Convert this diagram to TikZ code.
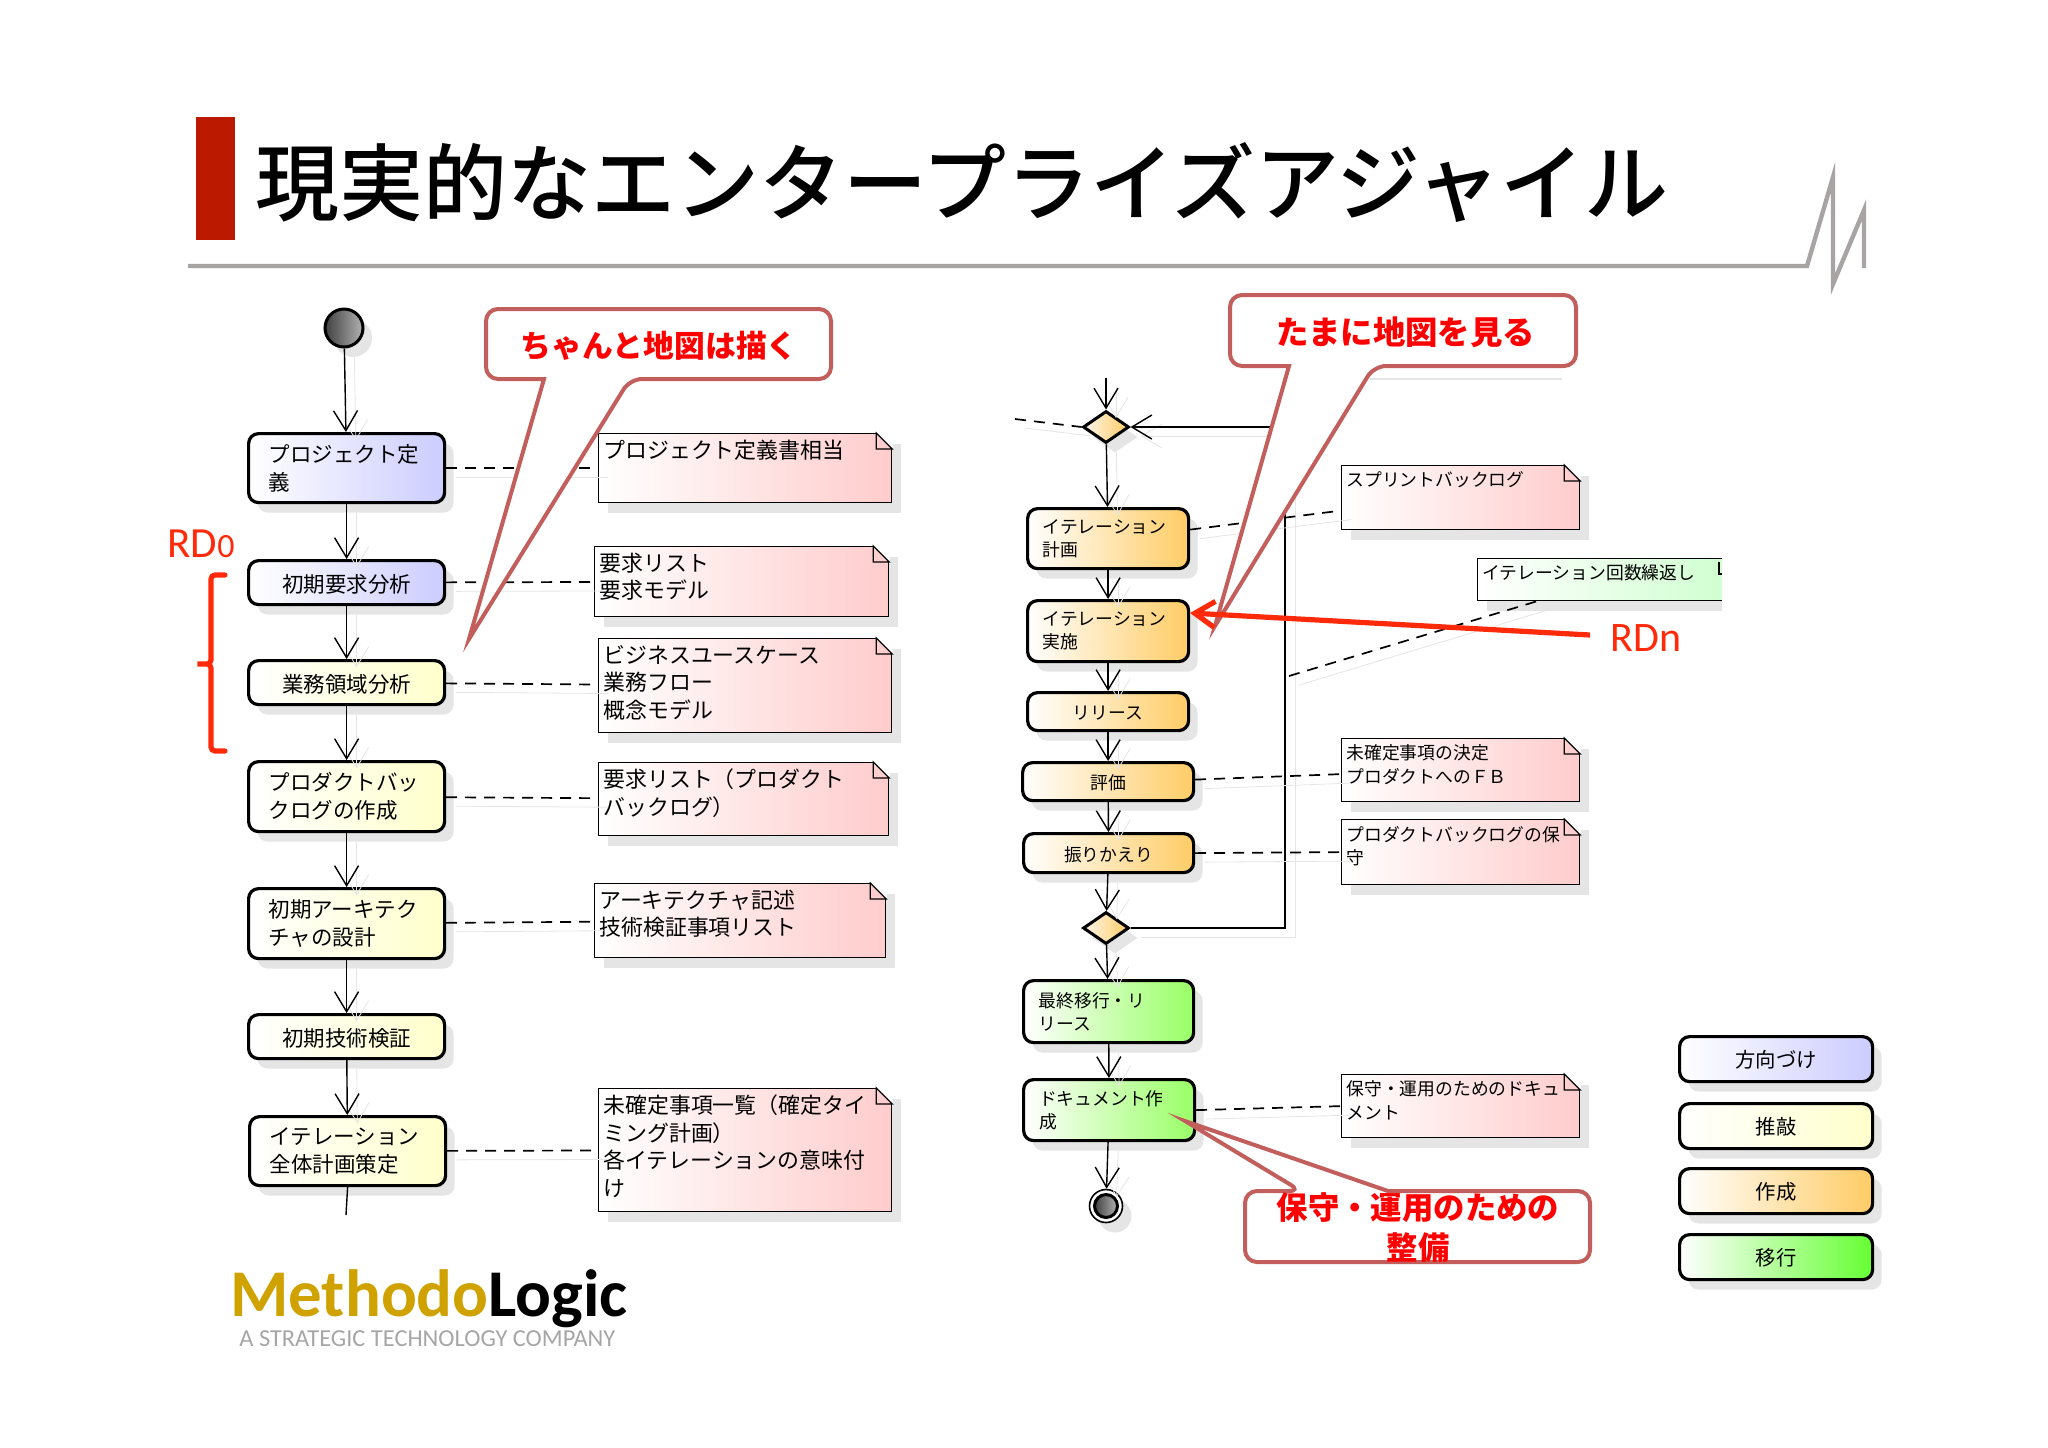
\documentclass[tikz,border=0pt]{standalone}
\usepackage{fontspec}
\setmainfont{Noto Sans CJK JP}
\newfontfamily\latinfont{Carlito}
\newfontfamily\titlefont{Noto Sans CJK JP Medium}
\usetikzlibrary{arrows.meta,shapes.geometric,shadows}
\definecolor{barred}{HTML}{BC1A00}
\definecolor{rulegrey}{HTML}{A8A4A4}
\definecolor{actblue}{HTML}{CCCCFF}
\definecolor{actyellow}{HTML}{FFFFCC}
\definecolor{actorange}{HTML}{FFCC66}
\definecolor{actgreen}{HTML}{99FF66}
\definecolor{keygreen}{HTML}{66FF33}
\definecolor{notepink}{HTML}{FFCCCC}
\definecolor{notegreen}{HTML}{CCFFCC}
\definecolor{bubbleline}{HTML}{C25F5C}
\definecolor{markred}{HTML}{FF2A0A}
\definecolor{logogold}{HTML}{CFA200}
\definecolor{logogrey}{HTML}{A6A6A6}
\newcommand{\notebox}[7]{%
  \node[notebg,right color=notepink,wh={#4}{#5},anchor=north west] (#1) at (#2,#3) {};
  \fill[white,draw=white] ([shift={(-16,0)}]#1.north east) -- (#1.north east) -- ([shift={(0,16)}]#1.north east) -- cycle;
  \draw[line width=0.6pt] ([shift={(-16,0)}]#1.north east) -- ([shift={(-16,16)}]#1.north east) -- ([shift={(0,16)}]#1.north east) -- cycle;
  \node[notetxt,#6,anchor=north west] (#1txt) at (#1.north west) {#7};}
\begin{document}
\begin{tikzpicture}[x=0.5pt,y=-0.5pt,
    >={Straight Barb[length=10pt,width=12pt]},
    wh/.style 2 args={minimum width=#1*0.5pt,minimum height=#2*0.5pt},
    fontbig/.style={font=\fontsize{10.75}{14.2}\selectfont},
    fontnote/.style={font=\fontsize{10.95}{13.8}\selectfont},
    fontsmall/.style={font=\fontsize{8.9}{11.6}\selectfont},
    fontkey/.style={font=\fontsize{10.2}{12}\selectfont},
    oneline/.style={text height=10.5pt,text depth=0.5pt},
    onesmall/.style={text height=8.5pt,text depth=0.5pt},
    onekey/.style={text height=9.3pt,text depth=0.5pt},
    softshadow/.style={drop shadow={shadow xshift=4.5pt,shadow yshift=-5pt,fill=black!20}},
    act/.style={draw=black,line width=1.6pt,rounded corners=5pt,inner sep=0pt,softshadow,left color=white},
    leftal/.style={text width=#1,align=left},
    notebg/.style={draw=black,line width=0.6pt,inner sep=0pt,softshadow,left color=white},
    notetxt/.style={inner xsep=2.5pt,inner ysep=3.3pt,align=left},
    flow/.style={->,line width=0.7pt,preaction={draw=black!10,transform canvas={xshift=5pt,yshift=-4.5pt}}},
    link/.style={line width=0.85pt,dash pattern=on 5.5pt off 4pt,preaction={draw=black!10,solid,transform canvas={xshift=5pt,yshift=-4.5pt}}},
    bubble/.style={draw=bubbleline,fill=white,line width=2pt},
    bubbletxt/.style={text=red,font=\fontsize{15.4}{20}\selectfont\bfseries,align=center},
    gate/.style={diamond,draw=black,line width=1.5pt,minimum width=23pt,minimum height=16pt,inner sep=0pt,softshadow,left color=orange!8,right color=actorange},
    ball/.style={circle,draw=black,line width=1.5pt,inner sep=0pt,left color=black!75,right color=black!30}]
\useasboundingbox (0,0) rectangle (2048,1447);

% header
\fill[barred] (196,117) rectangle (235,240);
\node[font=\titlefont\fontsize{42}{44}\selectfont,anchor=west,inner sep=0pt] (title) at (255,183) {現実的なエンタープライズアジャイル};
\draw[rulegrey,line width=2.2pt] (188,266) -- (1807,266) -- (1833,177) -- (1833,284) -- (1864,210) -- (1864,268);

% left column
\node[ball,softshadow,minimum size=19pt] (start) at (344,328) {};
\node[act,right color=actblue,wh={196}{69},leftal=78pt,fontbig,anchor=north west] (aDef) at (247,432) {プロジェクト定\\義};
\node[act,right color=actblue,wh={196}{44},oneline,fontbig,anchor=north west] (aReq) at (247,559) {初期要求分析};
\node[act,right color=actyellow,wh={196}{44},oneline,fontbig,anchor=north west] (aBiz) at (247,659) {業務領域分析};
\node[act,right color=actyellow,wh={196}{70},leftal=78pt,fontbig,anchor=north west] (aLog) at (247,760) {プロダクトバッ\\クログの作成};
\node[act,right color=actyellow,wh={196}{70},leftal=78pt,fontbig,anchor=north west] (aArch) at (247,887) {初期アーキテク\\チャの設計};
\node[act,right color=actyellow,wh={196}{44},oneline,fontbig,anchor=north west] (aTech) at (247,1013) {初期技術検証};
\node[act,right color=actyellow,wh={196}{69},leftal=78pt,fontbig,anchor=north west] (aPlan) at (248,1115) {イテレーション\\全体計画策定};
\coordinate (planEnd) at (346,1215);

\notebox{nDef}{598}{433}{293}{69}{fontnote}{プロジェクト定義書相当}
\notebox{nReq}{594}{546}{294}{70}{fontnote}{要求リスト\\要求モデル}
\notebox{nBiz}{598}{638}{293}{94}{fontnote}{ビジネスユースケース\\業務フロー\\概念モデル}
\notebox{nLog}{598}{762}{290}{73}{fontnote}{要求リスト（プロダクト\\バックログ）}
\notebox{nArch}{594}{883}{291}{74}{fontnote}{アーキテクチャ記述\\技術検証事項リスト}
\notebox{nPlan}{598}{1088}{293}{123}{fontnote}{未確定事項一覧（確定タイ\\ミング計画）\\各イテレーションの意味付\\け}

\path (start) edge[flow] (aDef)
      (aDef) edge[flow] (aReq)
      (aReq) edge[flow] (aBiz)
      (aBiz) edge[flow] (aLog)
      (aLog) edge[flow] (aArch)
      (aArch) edge[flow] (aTech)
      (aTech) edge[flow] (aPlan);
\draw[line width=0.7pt] (aPlan.south) -- (planEnd);
\path (aDef) edge[link] (nDef)
      (aReq) edge[link] (nReq)
      (aBiz) edge[link] (nBiz)
      (aLog) edge[link] (nLog)
      (aArch) edge[link] (nArch)
      (aPlan) edge[link] (nPlan);

% right column
\coordinate (loopIn) at (1106,378);
\coordinate (loopDash) at (1015,419);
\coordinate (loopSide) at (1285,700);
\node[gate] (dTop) at (1106,427) {};
\node[act,right color=actorange,wh={161}{60},leftal=65.5pt,fontsmall,anchor=north west] (aSprint) at (1026,507) {イテレーション\\計画};
\node[act,right color=actorange,wh={161}{61},leftal=65.5pt,fontsmall,anchor=north west] (aImpl) at (1026,599) {イテレーション\\実施};
\node[act,right color=actorange,wh={161}{38},onesmall,fontsmall,anchor=north west] (aRel) at (1026,691) {リリース};
\node[act,right color=actorange,wh={171}{38},onesmall,fontsmall,anchor=north west] (aEval) at (1021,761) {評価};
\node[act,right color=actorange,wh={170}{39},onesmall,fontsmall,anchor=north west] (aRetro) at (1022,832) {振りかえり};
\node[gate] (dBot) at (1106,928) {};
\node[act,right color=actgreen,wh={170}{62},leftal=70pt,fontsmall,anchor=north west] (aMove) at (1022,979) {最終移行・リ\\リース};
\node[act,right color=actgreen,wh={171}{61},leftal=70pt,fontsmall,anchor=north west] (aDoc) at (1022,1078) {ドキュメント作\\成};
\node[circle,draw=black,line width=0.8pt,fill=white,softshadow,minimum size=16.5pt,inner sep=0pt] (stop) at (1106,1206) {};
\node[ball,minimum size=11.5pt] (stopcore) at (stop) {};

\notebox{nSprint}{1341}{465}{238}{64}{fontsmall}{スプリントバックログ}
\notebox{nEval}{1341}{738}{238}{63}{fontsmall}{未確定事項の決定\\プロダクトへのＦＢ}
\notebox{nRetro}{1341}{819}{238}{65}{fontsmall}{プロダクトバックログの保\\守}
\notebox{nDoc}{1341}{1074}{238}{63}{fontsmall}{保守・運用のためのドキュ\\メント}

% cut off at the right
\node[notebg,right color=notegreen,wh={270}{42},anchor=north west] (nLoop) at (1477,558) {};
\fill[white] (1722,540) rectangle (1770,620);
\draw[line width=0.6pt] (1719,562) -- (1719,574) -- (1722,574);
\node[notetxt,fontsmall,anchor=north west] (nLooptxt) at (nLoop.north west) {イテレーション回数繰返し};
\coordinate (loopNoteEnd) at (1541,600);
\coordinate (loopNoteStart) at (1289,676);

\draw[flow] (dBot.east) -| (loopSide) |- (dTop.east);
\path (loopIn) edge[flow] (dTop)
      (dTop) edge[flow] (aSprint)
      (aSprint) edge[flow] (aImpl)
      (aImpl) edge[flow] (aRel)
      (aRel) edge[flow] (aEval)
      (aEval) edge[flow] (aRetro)
      (aRetro) edge[flow] (dBot)
      (dBot) edge[flow] (aMove)
      (aMove) edge[flow] (aDoc)
      (aDoc) edge[flow] (stop);
\path (loopDash) edge[link] (dTop.west)
      ([yshift=4.5pt]aSprint.east) edge[link] ([yshift=-6.5pt]nSprint.west)
      ([yshift=1pt]aEval.east) edge[link] ([yshift=-2pt]nEval.west)
      (aRetro.east) edge[link] (nRetro.west)
      (aDoc.east) edge[link] (nDoc.west)
      (loopNoteStart) edge[link] (loopNoteEnd);

% legend
\node[act,right color=actblue,wh={193}{45},onekey,fontkey,anchor=north west] (keyDir) at (1678,1035) {方向づけ};
\node[act,right color=actyellow,wh={193}{45},onekey,fontkey,anchor=north west] (keyEdit) at (1678,1102) {推敲};
\node[act,right color=actorange,wh={193}{45},onekey,fontkey,anchor=north west] (keyMake) at (1678,1167) {作成};
\node[act,right color=keygreen,wh={193}{45},onekey,fontkey,anchor=north west] (keyMove) at (1678,1233) {移行};

% bracket and RD marks
\draw[markred,line width=2.6pt,rounded corners=2pt,line cap=round] (225,575) -- (211,575) -- (211,664) -- (195,664) -- (211,664) -- (211,751) -- (225,751);
\node[text=markred,font=\latinfont\fontsize{21.5}{22}\selectfont,inner sep=0pt] (rdzero) at (201,544) {RD{\fontsize{17}{18}\selectfont 0}};
\node[text=markred,font=\latinfont\fontsize{21}{22}\selectfont,inner sep=0pt,anchor=west] (rdn) at (1610,638) {RDn};

% speech bubbles
\draw[black!10,line width=0.8pt] (1370,379) -- (1562,379);
\draw[bubble] (486,344) [rounded corners=6pt] -- (486,309) -- (831,309) -- (831,379) -- (630,379) [sharp corners] -- (469,639) -- (544,379) [rounded corners=6pt] -- (486,379) -- cycle;
\node[bubbletxt] (bubbleMap) at (659,346) {ちゃんと地図は描く};
\draw[bubble] (1230,330) [rounded corners=6pt] -- (1230,295) -- (1576,295) -- (1576,366) -- (1374,366) [sharp corners] -- (1215,626) -- (1289,366) [rounded corners=6pt] -- (1230,366) -- cycle;
\node[bubbletxt,font=\fontsize{16.2}{20}\selectfont\bfseries] (bubbleLook) at (1406,332) {たまに地図を見る};
\draw[bubble] (1245,1226) [rounded corners=6pt] -- (1245,1191) -- (1301,1191) [sharp corners] -- (1185,1121) -- (1388,1191) [rounded corners=6pt] -- (1590,1191) -- (1590,1262) -- (1245,1262) -- cycle;
\node[bubbletxt,font=\fontsize{15.7}{20}\selectfont\bfseries] (bubbleKeep) at (1418,1228) {保守・運用のための\\整備};

\coordinate (rdnTail) at (1590,635);
\coordinate (rdnTip) at (1190,613);
\draw[markred,line width=2.6pt,-{Straight Barb[length=10pt,width=13pt]}] (rdnTail) -- (rdnTip);

% logo
\node[font=\latinfont\bfseries\fontsize{33.4}{36}\selectfont,inner sep=0pt,anchor=base west] (logo) at (230,1316) {\textcolor{logogold}{Methodo}Logic};
\node[text=logogrey,font=\latinfont\fontsize{12.2}{13}\selectfont,inner sep=0pt,anchor=base west] (logosub) at (239,1346) {A STRATEGIC TECHNOLOGY COMPANY};
\end{tikzpicture}
\end{document}
